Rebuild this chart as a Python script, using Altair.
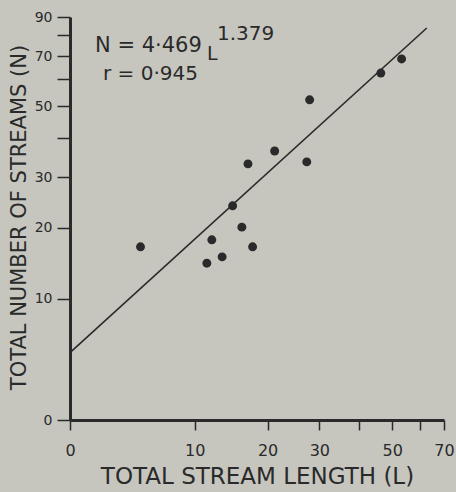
import altair as alt
import pandas as pd

# Scatter points: total stream length (L) vs total number of streams (N)
L_vals = [4.8, 12.0, 11.4, 13.3, 14.7, 16.0, 16.9, 17.6, 21.2, 27.3, 27.9, 46.3, 53.2]
N_vals = [16.9, 18.0, 14.5, 15.4, 24.0, 20.1, 33.2, 16.9, 36.5, 33.7, 52.3, 62.6, 68.7]

# Fitted line end points
line_L = [0.0, 62.7]
line_N = [4.7, 83.9]

x_ticks = [0, 10, 20, 30, 40, 50, 60, 70]
y_ticks = [0, 10, 20, 30, 40, 50, 60, 70, 80, 90]

INK = "#2a2a2a"
PAPER = "#c6c6bf"
FONT = "DejaVu Sans"

pts = pd.DataFrame({"L": L_vals, "N": N_vals})
ln = pd.DataFrame({"L": line_L, "N": line_N})

xscale = alt.Scale(type="symlog", constant=10, domain=[0, 70], nice=False)
yscale = alt.Scale(type="symlog", constant=10, domain=[0, 90], nice=False)

xaxis = alt.Axis(
    values=x_ticks,
    labelExpr="datum.value == 40 || datum.value == 60 ? '' : datum.label",
    title="TOTAL STREAM LENGTH (L)",
    grid=False,
    domainWidth=3, domainColor=INK,
    tickSize=10, tickWidth=1.5, tickColor=INK,
    labelFont=FONT, labelFontSize=16, labelColor=INK, labelPadding=12,
    labelFlush=False,
    titleFont=FONT, titleFontSize=23, titleFontWeight="normal", titleColor=INK,
    titleY=63, titleBaseline="alphabetic",
)
yaxis = alt.Axis(
    values=y_ticks,
    labelExpr="datum.value == 40 || datum.value == 60 || datum.value == 80 ? '' : datum.label",
    title="TOTAL NUMBER OF STREAMS (N)",
    grid=False,
    domainWidth=3, domainColor=INK,
    tickSize=13, tickWidth=1.5, tickColor=INK,
    labelFont=FONT, labelFontSize=14, labelColor=INK, labelPadding=5,
    labelFlush=False,
    titleFont=FONT, titleFontSize=21, titleFontWeight="normal", titleColor=INK,
    titleX=-45, titleY=200, titleBaseline="alphabetic", titleAngle=-90,
)

points = alt.Chart(pts).mark_point(filled=True, size=80, color=INK, opacity=1).encode(
    x=alt.X("L:Q", scale=xscale, axis=xaxis),
    y=alt.Y("N:Q", scale=yscale, axis=yaxis),
)

line = alt.Chart(ln).mark_line(color=INK, strokeWidth=1.6).encode(
    x=alt.X("L:Q", scale=xscale),
    y=alt.Y("N:Q", scale=yscale),
)

def label(text, x, y, size):
    return alt.Chart(pd.DataFrame({"t": [text]})).mark_text(
        font=FONT, fontSize=size, color=INK, align="left", baseline="alphabetic"
    ).encode(x=alt.value(x), y=alt.value(y), text="t:N")

ann = (
    label("N = 4·469", 25, 35, 21)
    + label("L", 137, 43, 19)
    + label("1.379", 147, 23, 20)
    + label("r = 0·945", 33, 63, 20)
)

chart = alt.layer(line, points, ann).properties(
    width=374, height=403,
    padding={"left": 70, "top": 17, "right": 12, "bottom": 72},
    autosize=alt.AutoSizeParams(type="none"),
    background=PAPER,
).configure_view(stroke=None)

chart.save("out.html", embed_options={"renderer": "svg", "actions": False})
